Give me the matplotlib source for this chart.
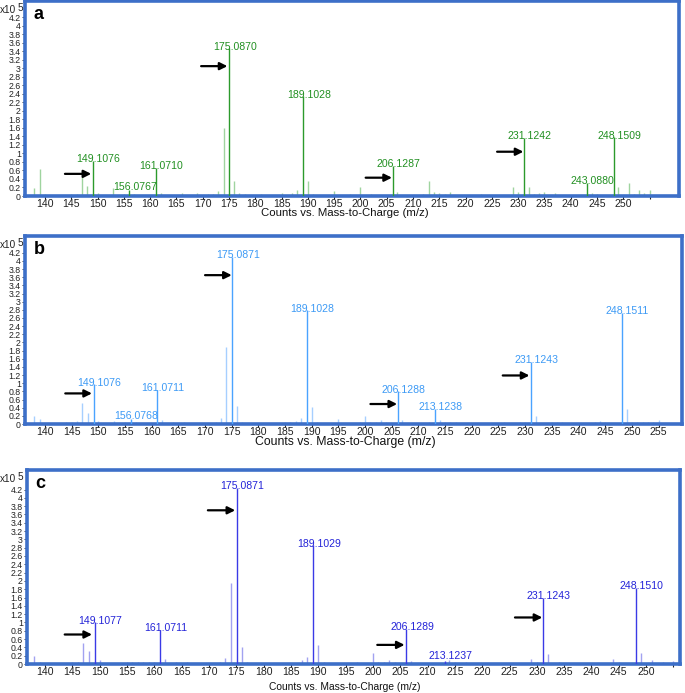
import matplotlib
matplotlib.use("Agg")
import matplotlib.pyplot as plt

plt.rcParams['font.family'] = ['Liberation Sans', 'DejaVu Sans']

# ---------------- data ----------------
# Panel a (labelled peaks)
mz_a = [149.1076, 156.0767, 161.0710, 175.0870, 189.1028, 206.1287, 231.1242, 243.0880, 248.1509]
int_a = [0.82, 0.15, 0.66, 3.47, 2.34, 0.70, 1.36, 0.31, 1.38]
lab_a = ["149.1076", "156.0767", "161.0710", "175.0870", "189.1028", "206.1287", "231.1242", "243.0880", "248.1509"]
minor_mz_a = [138, 139, 140, 141, 144, 145, 146, 147, 148, 150, 151, 153, 154, 155, 157, 158, 159, 162, 163, 164,
              165, 166, 167, 169, 170, 171, 172, 173, 174, 176, 177, 178, 179, 181, 183, 185, 187, 188, 190, 191,
              193, 195, 197, 198, 200, 201, 202, 203, 207, 208, 210, 212, 213, 214, 215, 216, 217, 223, 225, 227,
              229, 230, 232, 233, 234, 235, 237, 241, 244, 245, 247, 249, 251, 252, 253, 254, 255, 258]
minor_int_a = [0.18, 0.64, 0.04, 0.03, 0.03, 0.04, 0.05, 0.45, 0.24, 0.06, 0.03, 0.18, 0.03, 0.04, 0.04, 0.03, 0.03, 0.08, 0.03, 0.03,
               0.03, 0.08, 0.03, 0.08, 0.03, 0.04, 0.04, 0.12, 1.59, 0.35, 0.06, 0.04, 0.03, 0.05, 0.03, 0.06, 0.07, 0.15, 0.35, 0.04,
               0.03, 0.12, 0.03, 0.04, 0.20, 0.03, 0.04, 0.03, 0.10, 0.03, 0.03, 0.04, 0.36, 0.09, 0.08, 0.05, 0.10, 0.04, 0.03, 0.03,
               0.20, 0.10, 0.20, 0.05, 0.08, 0.10, 0.07, 0.03, 0.08, 0.05, 0.03, 0.20, 0.31, 0.05, 0.15, 0.07, 0.14, 0.03]
arrow_mz_a = [148.8, 174.7, 206.0, 231.0]
arrow_int_a = [0.52, 3.05, 0.43, 1.04]

# Panel b
mz_b = [149.1076, 156.0768, 161.0711, 175.0871, 189.1028, 206.1288, 213.1238, 231.1243, 248.1511]
int_b = [0.97, 0.12, 0.84, 4.10, 2.79, 0.80, 0.38, 1.52, 2.72]
lab_b = ["149.1076", "156.0768", "161.0711", "175.0871", "189.1028", "206.1288", "213.1238", "231.1243", "248.1511"]
minor_mz_b = [138, 139, 141, 143, 144, 145, 146, 147, 148, 150, 151, 152, 153, 155, 157, 158, 159, 162, 163, 164,
              165, 166, 167, 169, 171, 172, 173, 174, 176, 177, 178, 180, 181, 183, 185, 186, 187, 188, 190, 191,
              195, 198, 199, 200, 201, 202, 203, 204, 205, 207, 209, 211, 212, 214, 215, 216, 217, 220, 223, 226,
              228, 229, 230, 232, 233, 235, 236, 237, 240, 243, 244, 245, 249, 250, 251, 252, 253, 254, 255, 256]
minor_int_b = [0.20, 0.12, 0.03, 0.03, 0.04, 0.05, 0.07, 0.52, 0.26, 0.08, 0.03, 0.03, 0.08, 0.04, 0.04, 0.03, 0.03, 0.10, 0.03, 0.04,
               0.03, 0.04, 0.03, 0.03, 0.03, 0.04, 0.15, 1.88, 0.44, 0.04, 0.03, 0.03, 0.03, 0.03, 0.04, 0.04, 0.08, 0.15, 0.42, 0.04,
               0.12, 0.03, 0.04, 0.20, 0.04, 0.04, 0.10, 0.04, 0.03, 0.10, 0.03, 0.03, 0.04, 0.10, 0.05, 0.05, 0.05, 0.03, 0.03, 0.05,
               0.03, 0.06, 0.04, 0.20, 0.03, 0.04, 0.05, 0.05, 0.03, 0.04, 0.07, 0.04, 0.36, 0.04, 0.04, 0.05, 0.04, 0.04, 0.10, 0.03]
arrow_mz_b = [148.8, 175.0, 206.0, 230.8]
arrow_int_b = [0.75, 3.65, 0.49, 1.19]

# Panel c
mz_c = [149.1077, 161.0711, 175.0871, 189.1029, 206.1289, 213.1237, 231.1243, 248.1510]
int_c = [1.00, 0.83, 4.24, 2.86, 0.85, 0.08, 1.60, 1.83]
lab_c = ["149.1077", "161.0711", "175.0871", "189.1029", "206.1289", "213.1237", "231.1243", "248.1510"]
minor_mz_c = [138, 139, 141, 144, 145, 146, 147, 148, 150, 152, 154, 155, 156, 157, 158, 159, 160, 162, 164, 165,
              166, 168, 170, 172, 173, 174, 176, 177, 180, 184, 186, 187, 188, 190, 191, 193, 195, 197, 200, 201,
              202, 203, 204, 207, 209, 211, 214, 215, 217, 220, 223, 225, 227, 229, 230, 232, 234, 236, 238, 240,
              242, 244, 245, 249, 251, 253, 255]
minor_int_c = [0.20, 0.05, 0.03, 0.03, 0.04, 0.06, 0.50, 0.31, 0.10, 0.03, 0.03, 0.04, 0.06, 0.04, 0.04, 0.05, 0.04, 0.12, 0.05, 0.03,
               0.04, 0.03, 0.03, 0.05, 0.14, 1.95, 0.42, 0.04, 0.03, 0.03, 0.03, 0.10, 0.18, 0.46, 0.05, 0.03, 0.03, 0.04, 0.26, 0.05,
               0.04, 0.10, 0.04, 0.08, 0.03, 0.03, 0.10, 0.04, 0.04, 0.03, 0.03, 0.03, 0.03, 0.12, 0.04, 0.25, 0.04, 0.03, 0.03, 0.03,
               0.03, 0.12, 0.04, 0.26, 0.10, 0.05, 0.07]
arrow_mz_c = [148.6, 174.8, 205.8, 231.0]
arrow_int_c = [0.71, 3.70, 0.46, 1.12]

panel_letters = ["a", "b", "c"]
y_ticks = [0, 0.2, 0.4, 0.6, 0.8, 1, 1.2, 1.4, 1.6, 1.8, 2, 2.2, 2.4, 2.6, 2.8, 3, 3.2, 3.4, 3.6, 3.8, 4, 4.2]
x_ticks = [140, 145, 150, 155, 160, 165, 170, 175, 180, 185, 190, 195, 200, 205, 210, 215, 220, 225, 230, 235,
           240, 245, 250, 255]
x_label = "Counts vs. Mass-to-Charge (m/z)"

# ---------------- style / layout ----------------
W, H = 685, 693
fig = plt.figure(figsize=(W / 100, H / 100), dpi=100)
frame_col = "#3d6fc8"


def px_axes(left, top, right, bottom):
    return fig.add_axes([left / W, 1 - bottom / H, (right - left) / W, (bottom - top) / H])


panels = [
    dict(box=(25, 1, 679, 196), xlim=(136.2, 260.6), ylim=(0, 4.58),
         mz=mz_a, it=int_a, lab=lab_a, mmz=minor_mz_a, mit=minor_int_a, amz=arrow_mz_a, ait=arrow_int_a,
         dark="#2c9a2c", light="#9fd49f", text="#229022", label255=False, xl_y=213.5, xl_fs=8.2),
    dict(box=(25, 236, 682, 424), xlim=(136.25, 259.4), ylim=(0, 4.61),
         mz=mz_b, it=int_b, lab=lab_b, mmz=minor_mz_b, mit=minor_int_b, amz=arrow_mz_b, ait=arrow_int_b,
         dark="#4aa3ff", light="#a6cfff", text="#3d9af5", label255=True, xl_y=442, xl_fs=8.8),
    dict(box=(27, 470, 680, 664), xlim=(136.7, 256.2), ylim=(0, 4.67),
         mz=mz_c, it=int_c, lab=lab_c, mmz=minor_mz_c, mit=minor_int_c, amz=arrow_mz_c, ait=arrow_int_c,
         dark="#3a3ae6", light="#a2a2f0", text="#2424d8", label255=False, xl_y=686.5, xl_fs=7.4),
]

for p, letter in zip(panels, panel_letters):
    ax = px_axes(*p["box"])
    ax.set_xlim(*p["xlim"])
    ax.set_ylim(*p["ylim"])
    # minor peaks
    ax.vlines(p["mmz"], 0, p["mit"], color=p["light"], lw=1.0, zorder=2)
    # labelled peaks
    ax.vlines(p["mz"], 0, p["it"], color=p["dark"], lw=1.0, zorder=3)
    for m, v, t in zip(p["mz"], p["it"], p["lab"]):
        yv = max(v + 0.04, 0.2)
        ax.annotate(t, xy=(m, yv), xytext=(4, 0), textcoords="offset points",
                    ha="center", va="center", fontsize=7.6, color=p["text"], zorder=4)
    # arrows
    for m, v in zip(p["amz"], p["ait"]):
        ax.annotate("", xy=(m, v), xytext=(m - 5.0, v),
                    arrowprops=dict(arrowstyle="-|>", color="black", lw=1.6,
                                    mutation_scale=11, shrinkA=0, shrinkB=0), zorder=5)
    # axes styling
    for s in ax.spines.values():
        s.set_color(frame_col)
        s.set_linewidth(2.6)
    ax.set_yticks(y_ticks)
    ax.set_yticklabels(["%g" % t for t in y_ticks])
    ax.set_xticks(x_ticks)
    labels = [str(t) for t in x_ticks]
    if not p["label255"]:
        labels[-1] = ""
    ax.set_xticklabels(labels)
    ax.tick_params(axis="y", direction="out", length=2, width=0.6, pad=1, labelsize=6.3, colors="#222222")
    ax.tick_params(axis="x", direction="out", length=2, width=0.8, pad=0.3, labelsize=7.6, colors="#222222")
    ax.text(0.013, 0.975, letter, transform=ax.transAxes, ha="left", va="top",
            fontsize=13, fontweight="bold", color="black")
    # x10^5 multiplier
    base = fig.text(0.0, 1 - (p["box"][1] + 4) / H, "x10", ha="left", va="top", fontsize=7.2, color="#222222")
    ax.annotate("5", xy=(1.0, 1.0), xycoords=base, xytext=(0.6, 1.5), textcoords="offset points",
                ha="left", va="top", fontsize=7.2, color="#222222")
    fig.text(0.504, 1 - p["xl_y"] / H, x_label, ha="center", va="center", fontsize=p["xl_fs"], color="#111111")

fig.savefig("out.png", dpi=100)
